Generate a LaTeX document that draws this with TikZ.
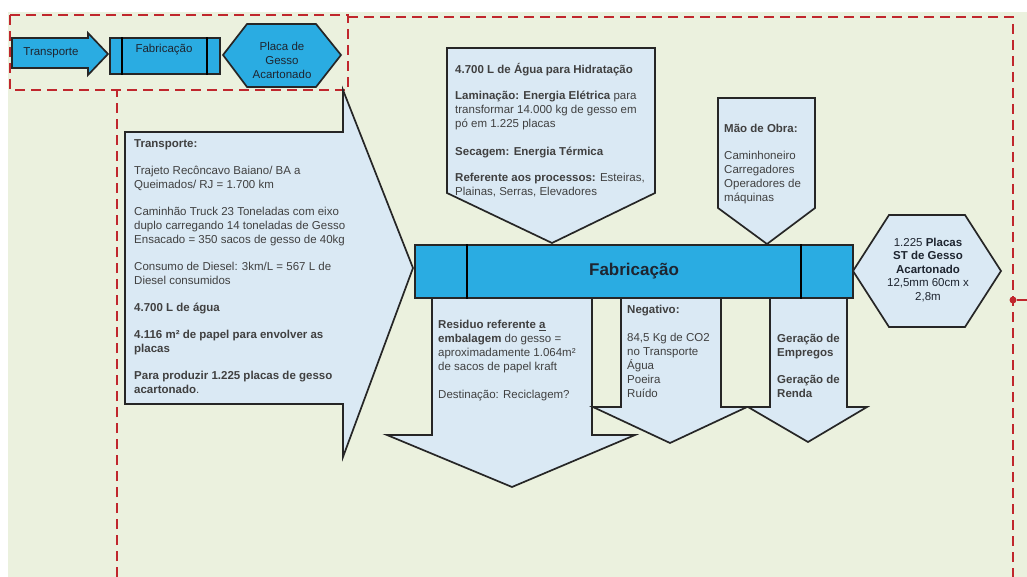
\documentclass[tikz,border=0pt]{standalone}
\usepackage{fontspec}
\setmainfont{Liberation Sans}
\usetikzlibrary{positioning}
\definecolor{bgcol}{HTML}{EBF1DE}
\definecolor{redline}{HTML}{C0272D}
\definecolor{calloutblue}{HTML}{DAE9F4}
\definecolor{barblue}{HTML}{2AACE2}
\definecolor{textgray}{HTML}{404040}
\definecolor{textdark}{HTML}{1E2530}

\begin{document}
\begin{tikzpicture}[
    x=1pt, y=-1pt,
    reddash/.style = {
        draw=redline,
        line width=2.4pt,
        dash pattern=on 10pt off 6pt
      },
    callout/.style = {
        draw=black!85,
        line width=1.7pt,
        fill=calloutblue
      },
    bluebox/.style = {
        draw=black!85,
        line width=1.7pt,
        fill=barblue
      },
    txt/.style = {
        inner sep=0pt,
        align=left,
        anchor=north west,
        text=textgray,
        font=\fontsize{11.5}{14}\selectfont
      },
    ctxt/.style = {
        txt,
        align=center,
        anchor=center,
        text=textdark
      },
    ]
    \useasboundingbox (0,0) rectangle (1027,577);
    \fill [bgcol] (8,12) rectangle (1027,577);

    \draw [reddash] (117,577) -- (117,90);
    \draw [reddash] (348,17) -- (1013,17) -- (1013,577);
    \draw [reddash] (10,15) rectangle (348,90);
    \node (dot) [circle, fill=redline, inner sep=0pt, minimum size=7pt] at (1013,300) {};
    \coordinate (edge) at (1027,300);
    \draw [redline, line width=2pt] (dot) -- (edge);

    \draw [bluebox] (12,38) -- (88,38) -- (88,33) -- (108,54) -- (88,75) -- (88,68) -- (12,68) -- cycle;
    \node (transporte) [ctxt] at (51,53) {Transporte};
    \node (fab small) [bluebox, minimum width=110pt, minimum height=36pt, inner sep=0pt] at (165,56) {};
    \draw [line width=1.5pt] ([xshift=13pt]fab small.north west) -- ([xshift=13pt]fab small.south west);
    \draw [line width=1.5pt] ([xshift=-14pt]fab small.north east) -- ([xshift=-14pt]fab small.south east);
    \node (fab small text) [ctxt] at (164,50) {Fabricação};
    \draw [bluebox] (223,55) -- (247,24) -- (316,24) -- (341,55) -- (316,87) -- (247,87) -- cycle;
    \node (placa) [ctxt] at (282,60) {Placa de\\Gesso\\Acartonado};

    \draw [callout] (125,132) -- (343,132) -- (343,90) -- (413,268) -- (343,457) -- (343,404) -- (125,404) -- cycle;
    \draw [callout] (447,48) -- (655,48) -- (655,193) -- (552,243) -- (447,193) -- cycle;
    \draw [callout] (718,98) -- (815,98) -- (815,208) -- (767,244) -- (718,208) -- cycle;
    \draw [callout] (432,296) -- (592,296) -- (592,435) -- (635,435) -- (512,487) -- (387,435) -- (432,435) -- cycle;
    \draw [callout] (621,296) -- (721,296) -- (721,407) -- (747,407) -- (670,443) -- (593,407) -- (621,407) -- cycle;
    \draw [callout] (770,296) -- (847,296) -- (847,407) -- (867,407) -- (808,442) -- (748,407) -- (770,407) -- cycle;
    \draw [callout] (853,271) -- (889,215) -- (965,215) -- (1001,271) -- (965,327) -- (889,327) -- cycle;

    \node (fabricacao) [bluebox, minimum width=438pt, minimum height=53pt, inner sep=0pt,
      text=textdark, font=\fontsize{17}{20}\selectfont\bfseries] at (634,271.5) {Fabricação};
    \draw [line width=1.5pt] ([xshift=53pt]fabricacao.north west) -- ([xshift=53pt]fabricacao.south west);
    \draw [line width=1.5pt] ([xshift=-53pt]fabricacao.north east) -- ([xshift=-53pt]fabricacao.south east);

    \node (transporte text) [txt] at (134,139) {\textbf{Transporte:}\\[13pt]
      Trajeto Recôncavo Baiano/ BA a\\Queimados/ RJ = 1.700 km\\[13pt]
      Caminhão Truck 23 Toneladas com eixo\\duplo carregando 14 toneladas de Gesso\\Ensacado = 350 sacos de gesso de 40kg\\[13pt]
      Consumo de Diesel: 3km/L = 567 L de\\Diesel consumidos\\[13pt]
      \textbf{4.700 L de água}\\[13pt]
      \textbf{4.116 m² de papel para envolver as}\\\textbf{placas}\\[13pt]
      \textbf{Para produzir 1.225 placas de gesso}\\\textbf{acartonado}.};
    \node (agua text) [txt] at (455,63) {\textbf{4.700 L de Água para Hidratação}\\[12pt]
      \textbf{Laminação: Energia Elétrica} para\\transformar 14.000 kg de gesso em\\pó em 1.225 placas\\[14pt]
      \textbf{Secagem: Energia Térmica}\\[12pt]
      \textbf{Referente aos processos:} Esteiras,\\Plainas, Serras, Elevadores};
    \node (obra text) [txt] at (724,124) {\textbf{Mão de Obra:}\\[13pt]
      Caminhoneiro\\Carregadores\\Operadores de\\máquinas};
    \node (residuo text) [txt] at (438,320) {\textbf{Residuo referente \underline{a}}\\
      \textbf{embalagem} do gesso =\\aproximadamente 1.064m²\\de sacos de papel kraft\\[14pt]
      Destinação: Reciclagem?};
    \node (negativo text) [txt] at (627,305) {\textbf{Negativo:}\\[14pt]
      84,5 Kg de CO2\\no Transporte\\Água\\Poeira\\Ruído};
    \node (geracao text) [txt] at (777,334) {\textbf{Geração de}\\\textbf{Empregos}\\[13pt]
      \textbf{Geração de}\\\textbf{Renda}};
    \node (placas text) [ctxt, font=\fontsize{11.5}{13.5}\selectfont] at (928,270) {1.225 \textbf{Placas}\\\textbf{ST de Gesso}\\\textbf{Acartonado}\\12,5mm 60cm x\\2,8m};
  \end{tikzpicture}
\end{document}
